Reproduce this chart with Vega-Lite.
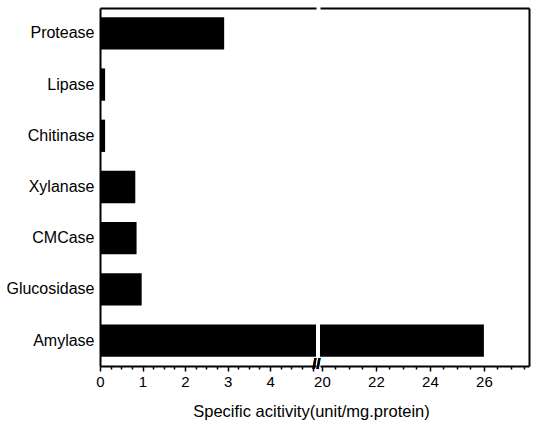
{
  "$schema": "https://vega.github.io/schema/vega-lite/v6.json",
  "background": "white",
  "padding": {"left": 5, "top": 8, "right": 9, "bottom": 5},
  "spacing": 4,
  "bounds": "flush",
  "config": {
    "view": {"stroke": null},
    "font": "Liberation Sans",
    "axis": {"domainColor": "black", "domainWidth": 2, "tickColor": "black", "tickWidth": 1.5, "labelColor": "black", "titleColor": "black", "grid": false}
  },
  "datasets": {
    "enz": [
      {"enzyme": "Protease", "activity": 2.92},
      {"enzyme": "Lipase", "activity": 0.12},
      {"enzyme": "Chitinase", "activity": 0.12},
      {"enzyme": "Xylanase", "activity": 0.83},
      {"enzyme": "CMCase", "activity": 0.86},
      {"enzyme": "Glucosidase", "activity": 0.98},
      {"enzyme": "Amylase", "activity": 26.0}
    ]
  },
  "hconcat": [
    {
      "width": 216,
      "height": 358,
      "data": {"name": "enz"},
      "layer": [
        {
          "mark": {"type": "bar", "color": "black", "clip": true},
          "encoding": {
            "y": {"field": "enzyme", "type": "nominal", "sort": ["Protease", "Lipase", "Chitinase", "Xylanase", "CMCase", "Glucosidase", "Amylase"], "scale": {"paddingInner": 0.37, "paddingOuter": 0.18}, "axis": {"title": null, "ticks": false, "labelFontSize": 16, "labelPadding": 6}},
            "x": {"field": "activity", "type": "quantitative", "scale": {"domain": [0, 5.08], "nice": false},
              "axis": {"values": [0, 0.25, 0.5, 0.75, 1, 1.25, 1.5, 1.75, 2, 2.25, 2.5, 2.75, 3, 3.25, 3.5, 3.75, 4, 4.25, 4.5, 4.75, 5],
                "labelExpr": "datum.value % 1 === 0 && datum.value < 5 ? '' + datum.value : ''",
                "tickSize": {"condition": {"test": "datum.value % 1 === 0", "value": 5}, "value": 3},
                "labelFontSize": 15, "labelPadding": 3, "labelFlush": false,
                "title": "Specific acitivity(unit/mg.protein)", "titleFontSize": 16.5, "titleFontWeight": "normal",
                "titleX": 211, "titleY": 50, "titleAlign": "center", "titleBaseline": "alphabetic", "titleAnchor": null}}
          }
        },
        {
          "mark": {"type": "point", "opacity": 0, "clip": true},
          "encoding": {
            "x": {"field": "activity", "type": "quantitative", "axis": {"orient": "top", "labels": false, "ticks": false, "title": null}}
          }
        }
      ],
      "resolve": {"axis": {"x": "independent"}}
    },
    {
      "width": 209,
      "height": 358,
      "data": {"name": "enz"},
      "layer": [
        {
          "mark": {"type": "bar", "color": "black", "clip": true},
          "encoding": {
            "y": {"field": "enzyme", "type": "nominal", "sort": ["Protease", "Lipase", "Chitinase", "Xylanase", "CMCase", "Glucosidase", "Amylase"], "scale": {"paddingInner": 0.37, "paddingOuter": 0.18}, "axis": {"orient": "right", "title": null, "ticks": false, "labels": false}},
            "x": {"field": "activity", "type": "quantitative", "scale": {"domain": [19.93, 27.67], "nice": false, "zero": false},
              "axis": {"values": [20, 20.5, 21, 21.5, 22, 22.5, 23, 23.5, 24, 24.5, 25, 25.5, 26, 26.5, 27, 27.5],
                "labelExpr": "datum.value % 2 === 0 ? '' + datum.value : ''",
                "tickSize": {"condition": {"test": "datum.value % 2 === 0", "value": 5}, "value": 3},
                "labelFontSize": 15, "labelPadding": 3, "labelFlush": false, "title": null}}
          }
        },
        {
          "mark": {"type": "point", "opacity": 0, "clip": true},
          "encoding": {
            "x": {"field": "activity", "type": "quantitative", "axis": {"orient": "top", "labels": false, "ticks": false, "title": null}}
          }
        },
        {
          "mark": {"type": "text", "text": "//", "fontSize": 14, "fontWeight": "bold", "dy": 24, "align": "center", "baseline": "middle", "color": "black"},
          "encoding": {
            "x": {"datum": 19.8, "type": "quantitative", "axis": null},
            "y": {"datum": "Amylase", "type": "nominal"}
          }
        }
      ],
      "resolve": {"axis": {"x": "independent"}}
    }
  ]
}
